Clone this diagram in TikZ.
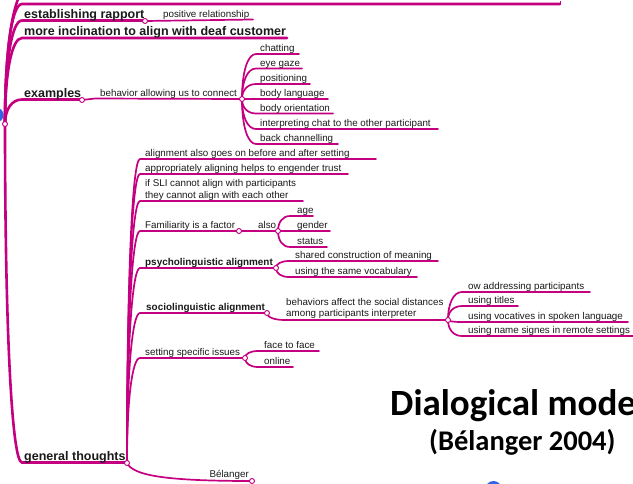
\documentclass[tikz,border=0pt]{standalone}
\usepackage{fontspec}
\setmainfont{Liberation Sans}
\newfontfamily\carl{Carlito}
\usetikzlibrary{calc}
\definecolor{mag}{RGB}{196,0,128}
\definecolor{ink}{RGB}{26,26,26}
\definecolor{blu}{RGB}{50,100,230}
\pgfdeclarelayer{back}
\pgfdeclarelayer{bg}
\pgfsetlayers{back,bg,main}
\tikzset{
  txt/.style={text=ink, inner sep=0pt, font=\fontsize{9.8}{11.5}\selectfont, align=left},
  big/.style={txt, font=\bfseries\fontsize{12.5}{14}\selectfont},
  mid/.style={txt, font=\bfseries\fontsize{9.9}{11.5}\selectfont},
  ln/.style={draw=mag, line width=1.7pt, line cap=round},
  mainln/.style={draw=mag, line width=2.6pt, line cap=round},
  jn/.style={circle, draw=mag, fill=white, line width=0.9pt, inner sep=0pt, minimum size=5pt},
}
\newcommand\mmleaf[7][txt]{%
  \coordinate (s#2) at (#3,#4);
  \coordinate (e#2) at (#5,#4);
  \node[#1,anchor=base west] (t#2) at (#6,#4-2.5) {#7};}
\newcommand\mmlink[3][ln]{%
  \draw[#1] (#2.center) .. controls ($(#2)!0.6!(#2 |- s#3)$) and ($(#2 |- s#3)!0.4!(s#3)$) .. (s#3) -- (e#3);}
\begin{document}
\begin{tikzpicture}[x=1pt,y=-1pt]
\useasboundingbox (0,0) rectangle (633,483);
\begin{pgfonlayer}{back}
  \fill[white] (0,0) rectangle (633,483);
\end{pgfonlayer}
% blue markers
\fill[blu] (-4,115) circle (7.5);
\fill[blu] (493.5,489) circle (8);
% junctions
\node[jn] (R) at (5,124) {};
\node[jn] (J1) at (145,21) {};
\node[jn] (J2) at (82,100) {};
\node[jn] (J3) at (242,99) {};
\node[jn] (G) at (127,463) {};
\node[jn] (J4) at (239,231) {};
\node[jn] (J9) at (278,231) {};
\node[jn] (J5) at (276,268) {};
\node[jn] (J6) at (267,313) {};
\node[jn] (J10) at (448,320) {};
\node[jn] (J7) at (245,358) {};
\node[jn] (J8) at (252,481) {};
% top (cut) branch
\coordinate (stop) at (22,4);
\coordinate (etop) at (560,4);
\coordinate (tickt) at (560,1);
\coordinate (sup2) at (24,-12);
% main topics
\mmleaf[big]{est}{22}{20.5}{145}{24}{establishing rapport}
\mmleaf[big]{mo}{22}{38}{287}{24}{more inclination to align with deaf customer}
\mmleaf[big]{ex}{22}{99.5}{82}{24}{examples}
\mmleaf[big]{ge}{22}{462.5}{127}{24}{general thoughts}
% establishing rapport child
\coordinate (epos) at (253,19.5);
\node[txt,anchor=base west] (tpos) at (163,17) {positive relationship};
% examples
\coordinate (sbeh) at (95,98.5);
\node[txt,anchor=base west] (tbeh) at (100,96.5) {behavior allowing us to connect};
\mmleaf{ch}{256}{54}{299}{260}{chatting}
\mmleaf{eg}{256}{68.5}{302}{260}{eye gaze}
\mmleaf{po}{256}{84}{310}{260}{positioning}
\mmleaf{bl}{256}{99}{328}{260}{body language}
\mmleaf{bo}{256}{113.5}{333}{260}{body orientation}
\mmleaf{ic}{256}{129}{438}{260}{interpreting chat to the other participant}
\mmleaf{bc}{256}{144}{338}{260}{back channelling}
% general thoughts
\mmleaf{al}{140}{159}{376}{145}{alignment also goes on before and after setting}
\mmleaf{ap}{140}{174}{348}{145}{appropriately aligning helps to engender trust}
\coordinate (ssl) at (140,201);
\coordinate (esl) at (303,201);
\node[txt,anchor=base west] (tsl) at (145,198) {if SLI cannot align with participants\\they cannot align with each other};
\mmleaf{fa}{140}{231}{239}{145}{Familiarity is a factor}
\mmleaf[mid]{ps}{140}{268}{276}{145}{psycholinguistic alignment}
\mmleaf[mid]{so}{140}{313}{267}{146}{sociolinguistic alignment}
\mmleaf{se}{140}{358}{245}{145}{setting specific issues}
\node[txt,anchor=base east] (tbel) at (249,477.5) {Bélanger};
% familiarity
\node[txt,anchor=base west] (talso) at (258,228.5) {also};
\mmleaf{ag}{290}{216}{313}{297}{age}
\mmleaf{gd}{290}{231}{330}{297}{gender}
\mmleaf{st}{290}{247}{327}{297}{status}
% psycholinguistic
\mmleaf{sc}{289}{261}{438}{295}{shared construction of meaning}
\mmleaf{vo}{289}{277}{417}{295}{using the same vocabulary}
% sociolinguistic
\coordinate (ssoc) at (285,320);
\node[txt,anchor=base west] (tsoc) at (286,316.5) {behaviors affect the social distances\\among participants interpreter};
\mmleaf{ow}{462}{292}{590}{468}{ow addressing participants}
\mmleaf{ti}{462}{306}{518}{468}{using titles}
\mmleaf{vc}{462}{322}{628}{468}{using vocatives in spoken language}
\mmleaf{na}{462}{336}{645}{468}{using name signes in remote settings}
% setting specific
\mmleaf{ff}{258}{351}{319}{264}{face to face}
\mmleaf{on}{258}{367}{293}{264}{online}
% slide title
\node[anchor=base west, inner sep=0pt, text=black, font=\carl\bfseries\fontsize{37}{40}\selectfont] (dm) at (390,415) {Dialogical model};
\node[anchor=base west, inner sep=0pt, text=black, font=\carl\bfseries\fontsize{28.5}{32}\selectfont] (db) at (429,450) {(Bélanger 2004)};
\begin{pgfonlayer}{bg}
  \mmlink[mainln]{R}{top}
  \draw[mag, line width=1pt] (etop) -- (tickt);
  \draw[mainln] (R.center) .. controls (5,40) and (14,0) .. (sup2);
  \mmlink[mainln]{R}{est}
  \mmlink[mainln]{R}{mo}
  \mmlink[mainln]{R}{ex}
  \mmlink[mainln]{R}{ge}
  \draw[ln] (J1.center) -- (epos);
  \draw[ln] (J2.center) .. controls (88,98.5) .. (sbeh) -- (J3.center);
  \mmlink{J3}{ch}
  \mmlink{J3}{eg}
  \mmlink{J3}{po}
  \mmlink{J3}{bl}
  \mmlink{J3}{bo}
  \mmlink{J3}{ic}
  \mmlink{J3}{bc}
  \mmlink{G}{al}
  \mmlink{G}{ap}
  \mmlink{G}{sl}
  \mmlink{G}{fa}
  \mmlink{G}{ps}
  \mmlink{G}{so}
  \mmlink{G}{se}
  \draw[ln] (G.center) .. controls ($(G)+(6,12)$) and ($(J8)+(-90,0)$) .. (J8.center);
  \draw[ln] (J4.center) -- (J9.center);
  \mmlink{J9}{ag}
  \mmlink{J9}{gd}
  \mmlink{J9}{st}
  \mmlink{J5}{sc}
  \mmlink{J5}{vo}
  \draw[ln] (J6.center) .. controls ($(J6)!0.6!(J6 |- ssoc)$) and ($(J6 |- ssoc)!0.4!(ssoc)$) .. (ssoc) -- (J10.center);
  \mmlink{J10}{ow}
  \mmlink{J10}{ti}
  \mmlink{J10}{vc}
  \mmlink{J10}{na}
  \mmlink{J7}{ff}
  \mmlink{J7}{on}
\end{pgfonlayer}
\end{tikzpicture}
\end{document}
